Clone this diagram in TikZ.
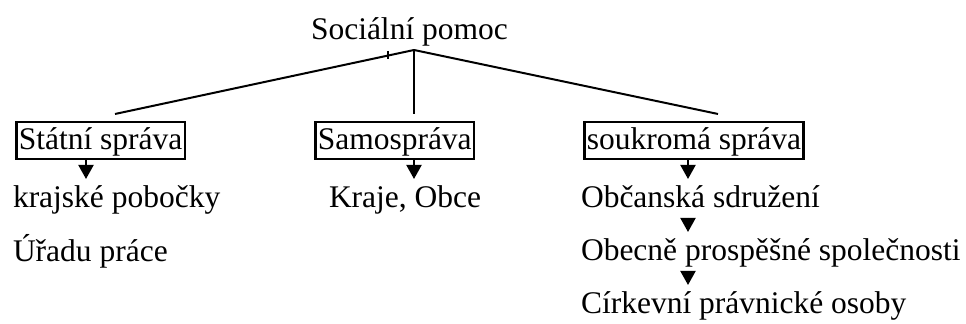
\documentclass[tikz,border=0pt]{standalone}
\usepackage{fontspec}
\setmainfont{Liberation Serif}
\usetikzlibrary{arrows.meta}
\begin{document}
\begin{tikzpicture}[x=0.4pt,y=-0.4pt,line width=0.8pt,
    txt/.style={inner sep=0pt,text height=11.2pt,text depth=3.6pt,anchor=base west,
      font=\fontsize{12.6}{15}\selectfont},
    box/.style={txt,draw,line width=1pt,inner xsep=1pt},
    arr/.style={-{Triangle[length=5.6pt,width=6pt]}}]
  \useasboundingbox (0,0) rectangle (966,324);
  \draw
    (310,40) node[txt] (pomoc){Sociální pomoc}
    (15,150) node[box] (statni){Státní správa}
    (314,150) node[box] (samo){Samospráva}
    (583,150) node[box] (soukroma){soukromá správa}
    (12,208) node[txt] (krajske){krajské pobočky}
    (12,262) node[txt] (uradu){Úřadu práce}
    (328,208) node[txt] (kraje){Kraje, Obce}
    (580,208) node[txt] (obcanska){Občanská sdružení}
    (580,261) node[txt] (obecne){Obecně prospěšné společnosti}
    (580,314) node[txt] (cirkevni){Církevní právnické osoby};
  \coordinate (top) at (414,50);
  \coordinate (e1) at (115,114);
  \coordinate (e2) at (414,114);
  \coordinate (e3) at (718,114);
  \coordinate (c1) at (86,0);
  \coordinate (c2) at (414,0);
  \coordinate (c3) at (688,0);
  \begin{scope}[-]
    \draw (top) to (e1);
    \draw (top) to (e2);
    \draw (top) to (e3);
    \draw (388,51) to (388,59);
  \end{scope}
  \begin{scope}[arr]
    \draw (statni.south -| c1) to (krajske.north -| c1);
    \draw (samo.south -| c2) to (kraje.north -| c2);
    \draw (soukroma.south -| c3) to (obcanska.north -| c3);
    \draw (obcanska.south -| c3) to (obecne.north -| c3);
    \draw (obecne.south -| c3) to (cirkevni.north -| c3);
  \end{scope}
\end{tikzpicture}
\end{document}
